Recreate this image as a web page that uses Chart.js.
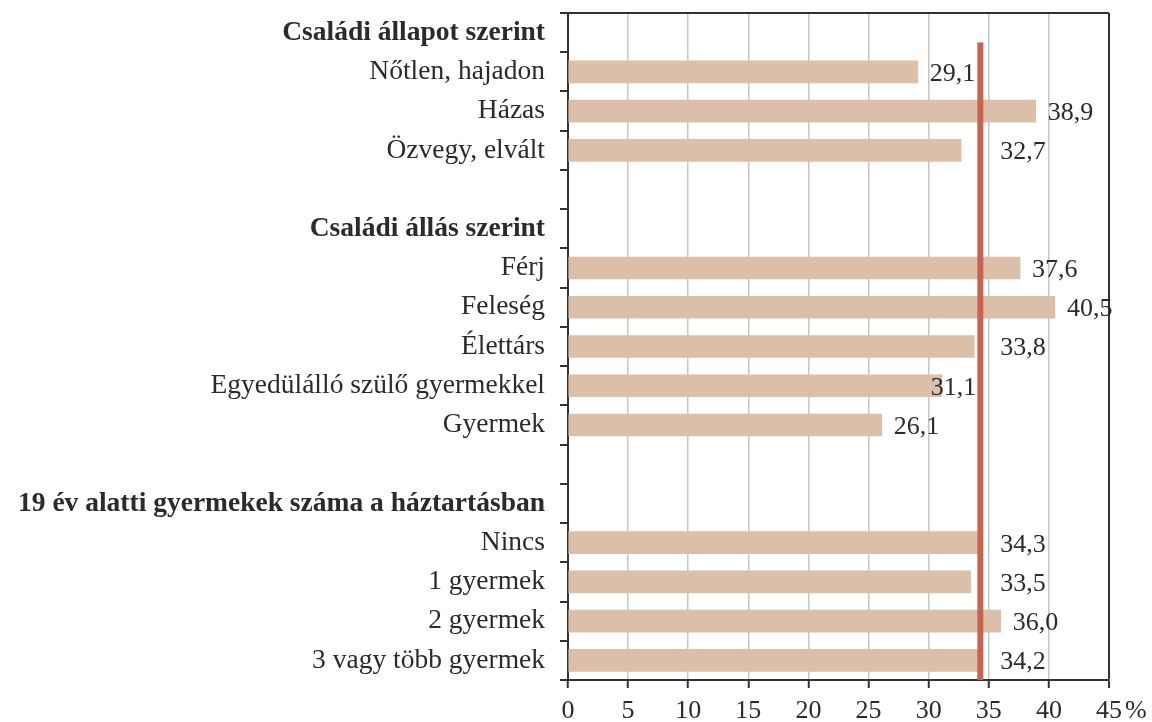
<!DOCTYPE html>
<html>
<head>
<meta charset="utf-8">
<script src="https://cdn.jsdelivr.net/npm/chart.js@4"></script>
<style>
  html, body { margin: 0; padding: 0; background: #fff; }
  #wrap { width: 1152px; height: 722px; }
</style>
</head>
<body>
<div id="wrap"><canvas id="myChart" width="1152" height="722"></canvas></div>
<script>
let categories = [
    'Családi állapot szerint',
    'Nőtlen, hajadon',
    'Házas',
    'Özvegy, elvált',
    '',
    'Családi állás szerint',
    'Férj',
    'Feleség',
    'Élettárs',
    'Egyedülálló szülő gyermekkel',
    'Gyermek',
    '',
    '19 év alatti gyermekek száma a háztartásban',
    'Nincs',
    '1 gyermek',
    '2 gyermek',
    '3 vagy több gyermek'
];
let headers = [
    'Családi állapot szerint',
    'Családi állás szerint',
    '19 év alatti gyermekek száma a háztartásban'
];
let values = [null, 29.1, 38.9, 32.7, null, null, 37.6, 40.5, 33.8, 31.1, 26.1, null, null, 34.3, 33.5, 36.0, 34.2];
let average = 34.3;
let xTicks = [0, 5, 10, 15, 20, 25, 30, 35, 40, 45];

let fontFamily = '"Liberation Serif", "DejaVu Serif", serif';
let fontSize = 26;
let textColor = '#2b2b2b';
let barColor = '#dbbfa8';
let lineColor = '#c7634f';

function fmt(v) {
    return v.toFixed(1).replace('.', ',');
}

// average line, top border, value labels, % sign
let extras = {
    id: 'extras',
    afterDatasetsDraw(chart) {
        let c = chart.ctx;
        let x = chart.scales.x;
        let y = chart.scales.y;
        let area = chart.chartArea;
        let row = (area.bottom - area.top) / categories.length;
        let lineX = x.getPixelForValue(average);

        c.save();
        // top border
        c.strokeStyle = '#333';
        c.lineWidth = 2;
        c.beginPath();
        c.moveTo(area.left, area.top);
        c.lineTo(area.right, area.top);
        c.stroke();

        // average line
        c.fillStyle = lineColor;
        c.fillRect(lineX - 3, area.top + row * 0.75, 6, area.bottom - area.top - row * 0.75);

        // value labels
        c.font = fontSize + 'px ' + fontFamily;
        c.fillStyle = textColor;
        c.textBaseline = 'middle';
        values.forEach(function (v, i) {
            if (v === null) return;
            let end = x.getPixelForValue(v);
            let cy = y.getPixelForValue(i) + 2;
            let w = c.measureText(fmt(v)).width;
            let lx;
            if (end + 12 + w <= lineX - 3) {
                lx = end + 12;
            } else if (end <= lineX - 30) {
                lx = lineX - 4 - w;
            } else if (end < lineX + 8) {
                lx = lineX + 20;
            } else {
                lx = end + 12;
            }
            c.textAlign = 'left';
            c.fillText(fmt(v), lx, cy);
        });

        // % after the last tick
        c.textAlign = 'left';
        c.fillText('%', x.getPixelForValue(45) + 16, area.bottom + 31);
        c.restore();
    }
};

let ctx = document.getElementById('myChart').getContext('2d');

let myChart = new Chart(ctx, {
    type: 'bar',
    data: {
        labels: categories,
        datasets: [{
            data: values,
            backgroundColor: barColor,
            barThickness: 22
        }]
    },
    options: {
        indexAxis: 'y',
        responsive: false,
        animation: false,
        layout: {
            padding: { top: 13, right: 43, left: 0, bottom: 0 }
        },
        plugins: {
            legend: { display: false },
            tooltip: { enabled: false }
        },
        scales: {
            x: {
                min: 0,
                max: 45,
                afterBuildTicks: function (axis) {
                    axis.ticks = xTicks.map(function (t) { return { value: t }; });
                },
                afterFit: function (axis) {
                    axis.height = 42;
                    axis.paddingLeft = 0;
                    axis.paddingRight = 0;
                },
                border: { color: '#333', width: 2 },
                grid: {
                    color: function (c) {
                        return c.tick && c.tick.value === 45 ? '#333' : '#c6c6c6';
                    },
                    lineWidth: function (c) {
                        return c.tick && c.tick.value === 45 ? 2 : 1.5;
                    },
                    tickColor: '#333',
                    tickLength: 8,
                    tickWidth: 2
                },
                ticks: {
                    color: textColor,
                    padding: 8,
                    maxRotation: 0,
                    font: { family: fontFamily, size: fontSize }
                }
            },
            y: {
                afterFit: function (axis) {
                    axis.width = 568;
                    axis.paddingTop = 0;
                    axis.paddingBottom = 0;
                },
                border: { color: '#333', width: 2 },
                grid: {
                    drawOnChartArea: false,
                    color: '#333',
                    lineWidth: 2,
                    tickLength: 8
                },
                ticks: {
                    color: textColor,
                    padding: 15,
                    autoSkip: false,
                    font: function (c) {
                        let lbl = categories[c.index];
                        return {
                            family: fontFamily,
                            size: 27.5,
                            weight: headers.indexOf(lbl) >= 0 ? 'bold' : 'normal'
                        };
                    }
                }
            }
        }
    },
    plugins: [extras]
});
</script>
</body>
</html>
